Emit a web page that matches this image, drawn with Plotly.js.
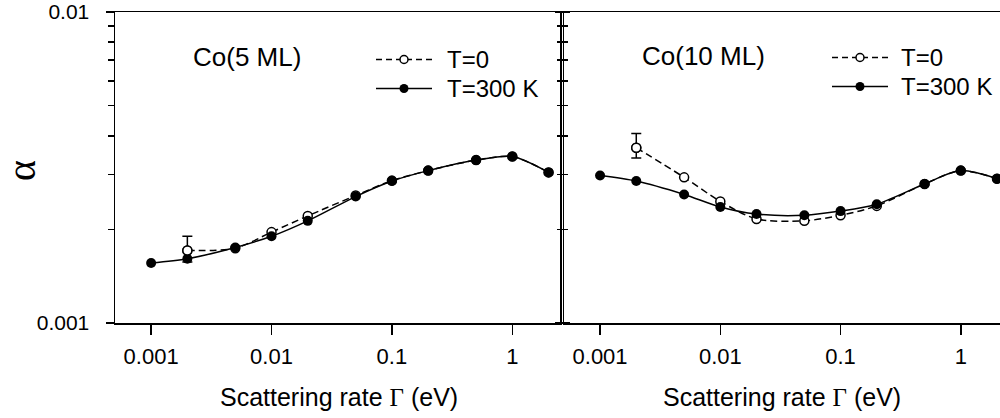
<!DOCTYPE html>
<html><head><meta charset="utf-8">
<script src="https://cdn.plot.ly/plotly-3.0.1.min.js"></script>
<style>html,body{margin:0;padding:0;background:#fff}#chart{width:1000px;height:418px}</style>
</head><body><div id="chart"></div>
<script>
// scattering rate Gamma (eV)
const gamma = [0.001, 0.002, 0.005, 0.01, 0.02, 0.05, 0.1, 0.2, 0.5, 1, 2];
const gammaT0 = [0.002, 0.005, 0.01, 0.02, 0.05, 0.1, 0.2, 0.5, 1, 2];
// Co(5 ML)
const co5_T300 = [0.00156, 0.00161, 0.00175, 0.00190, 0.00213, 0.00255, 0.00286, 0.00309, 0.00334, 0.00343, 0.00305];
const co5_T0   = [0.00171, 0.00174, 0.00196, 0.00221, 0.00257, 0.00287, 0.00309, 0.00334, 0.00343, 0.00305];
const co5_errUp = 0.00019, co5_errDn = 0.00014;
// Co(10 ML)
const co10_T300 = [0.00298, 0.00286, 0.00259, 0.00236, 0.00224, 0.00222, 0.00229, 0.00241, 0.00280, 0.00309, 0.00291];
const co10_T0   = [0.00366, 0.00294, 0.00246, 0.00216, 0.00213, 0.00222, 0.00238, 0.00280, 0.00309, 0.00291];
const co10_errUp = 0.00041, co10_errDn = 0.00027;
// ticks
const xTickVals = [0.001, 0.01, 0.1, 1];
const xTickText = ["0.001", "0.01", "0.1", "1"];
const yTickVals = [0.001, 0.01];
const yTickText = ["0.001", "0.01"];
const yMinorVals = [0.002, 0.003, 0.004, 0.005, 0.006, 0.007, 0.008, 0.009];
const seriesNames = ["T=0", "T=300 K"];
const panelLabels = ["Co(5 ML)", "Co(10 ML)"];

const W = 1000, H = 418, L = 115, R = 0, T = 12, B = 95;
const pw = W - L - R, ph = H - T - B;
const px = v => (v - L) / pw;
const py = v => (H - B - v) / ph;

const FONT = "Liberation Sans, Arial, sans-serif";
const openMarker = {symbol: "circle", size: 9, color: "#fff", line: {color: "#000", width: 1.5}};
const fillMarker = {symbol: "circle", size: 10, color: "#000", line: {color: "#000", width: 0}};
const dashLine = {color: "#000", width: 1.5, dash: "7px,4px", shape: "spline", smoothing: 0.8};
const solidLine = {color: "#000", width: 1.5, shape: "spline", smoothing: 0.8};

function panel(xa, ya, yT0, yT300, eu, ed) {
  return [
    {x: gammaT0, y: yT0, xaxis: xa, yaxis: ya, mode: "lines+markers", line: dashLine, marker: openMarker, showlegend: false, cliponaxis: true},
    {x: gamma, y: yT300, xaxis: xa, yaxis: ya, mode: "lines+markers", line: solidLine, marker: fillMarker, showlegend: false, cliponaxis: true},
    {x: [gammaT0[0]], y: [yT0[0]], xaxis: xa, yaxis: ya, mode: "markers", marker: openMarker, showlegend: false,
     error_y: {type: "data", array: [eu], arrayminus: [ed], symmetric: false, width: 5, thickness: 1.5, color: "#000"}}
  ];
}
const data = [].concat(
  panel("x", "y", co5_T0, co5_T300, co5_errUp, co5_errDn),
  panel("x2", "y2", co10_T0, co10_T300, co10_errUp, co10_errDn)
);

const xBase = {
  type: "log", tickmode: "array", tickvals: xTickVals, ticktext: xTickText,
  ticks: "outside", ticklen: 10, tickwidth: 1.5, tickcolor: "#000",
  showline: true, linewidth: 1.5, linecolor: "#000", mirror: true,
  showgrid: false, zeroline: false, tickfont: {family: FONT, size: 22, color: "#000"},
  ticklabelstandoff: 3, fixedrange: true
};
const yBase = {
  type: "log", range: [-3, -2], tickmode: "array", tickvals: yTickVals, ticktext: yTickText,
  ticks: "outside", ticklen: 8, tickwidth: 1.5, tickcolor: "#000",
  minor: {tickmode: "array", tickvals: yMinorVals, ticks: "outside", ticklen: 6, tickwidth: 1.5, tickcolor: "#000", showgrid: false},
  showline: true, linewidth: 1.5, linecolor: "#000",
  showgrid: false, zeroline: false, tickfont: {family: FONT, size: 21, color: "#000"},
  ticklabelstandoff: 12, fixedrange: true
};

const layout = {
  width: W, height: H,
  margin: {l: L, r: R, t: T, b: B, pad: 0},
  paper_bgcolor: "#fff", plot_bgcolor: "#fff",
  showlegend: false,
  font: {family: FONT, color: "#000"},
  xaxis: Object.assign({}, xBase, {domain: [0, px(560)], range: [-3.3, 0.396], anchor: "y"}),
  xaxis2: Object.assign({}, xBase, {domain: [px(564), 1], range: [-3.3, 0.326], anchor: "y2"}),
  yaxis: Object.assign({}, yBase, {anchor: "x", mirror: "ticks"}),
  yaxis2: Object.assign({}, yBase, {anchor: "x2", showticklabels: false, mirror: false}),
  annotations: [],
  shapes: []
};

// axis titles and panel labels
const titleText = 'Scattering rate <span style="font-family:Liberation Serif, serif">Γ</span> (eV)';
[[339, 0], [782, 1]].forEach(([cx, i]) => {
  layout.annotations.push({xref: "paper", yref: "paper", x: px(cx), y: py(397), text: titleText, showarrow: false,
    xanchor: "center", yanchor: "middle", font: {family: FONT, size: 25, color: "#000"}});
});
layout.annotations.push({xref: "paper", yref: "paper", x: px(247), y: py(56.5), text: panelLabels[0], showarrow: false,
  xanchor: "center", yanchor: "middle", font: {family: FONT, size: 26, color: "#000"}});
layout.annotations.push({xref: "paper", yref: "paper", x: px(703.5), y: py(56), text: panelLabels[1], showarrow: false,
  xanchor: "center", yanchor: "middle", font: {family: FONT, size: 26, color: "#000"}});
layout.annotations.push({xref: "paper", yref: "paper", x: px(21), y: py(171), text: "α", showarrow: false, textangle: -90,
  xanchor: "center", yanchor: "middle", font: {family: "Liberation Serif, serif", size: 40, color: "#000"}});

// legends (decoration)
function legend(x0, x1, xt, rows) {
  rows.forEach(([yy, dashed, filled, label]) => {
    layout.shapes.push({type: "line", xref: "paper", yref: "paper", x0: px(x0), x1: px(x1), y0: py(yy), y1: py(yy),
      line: {color: "#000", width: 1.5, dash: dashed ? "6px,4px" : "solid"}});
    const xm = (x0 + x1) / 2, r = filled ? 4.5 : 4;
    layout.shapes.push({type: "circle", xref: "paper", yref: "paper", xsizemode: "pixel", ysizemode: "pixel",
      xanchor: px(xm), yanchor: py(yy), x0: -r, x1: r, y0: -r, y1: r,
      fillcolor: filled ? "#000" : "#fff", line: {color: "#000", width: filled ? 0 : 1.5}});
    layout.annotations.push({xref: "paper", yref: "paper", x: px(xt), y: py(yy), text: label, showarrow: false,
      xanchor: "left", yanchor: "middle", font: {family: FONT, size: 24, color: "#000"}});
  });
}
legend(376, 432, 445, [[59.5, true, false, seriesNames[0]], [88.5, false, true, seriesNames[1]]]);
legend(832, 888, 899, [[57.5, true, false, seriesNames[0]], [86.5, false, true, seriesNames[1]]]);

Plotly.newPlot("chart", data, layout, {staticPlot: true, displayModeBar: false});
</script>
</body></html>
